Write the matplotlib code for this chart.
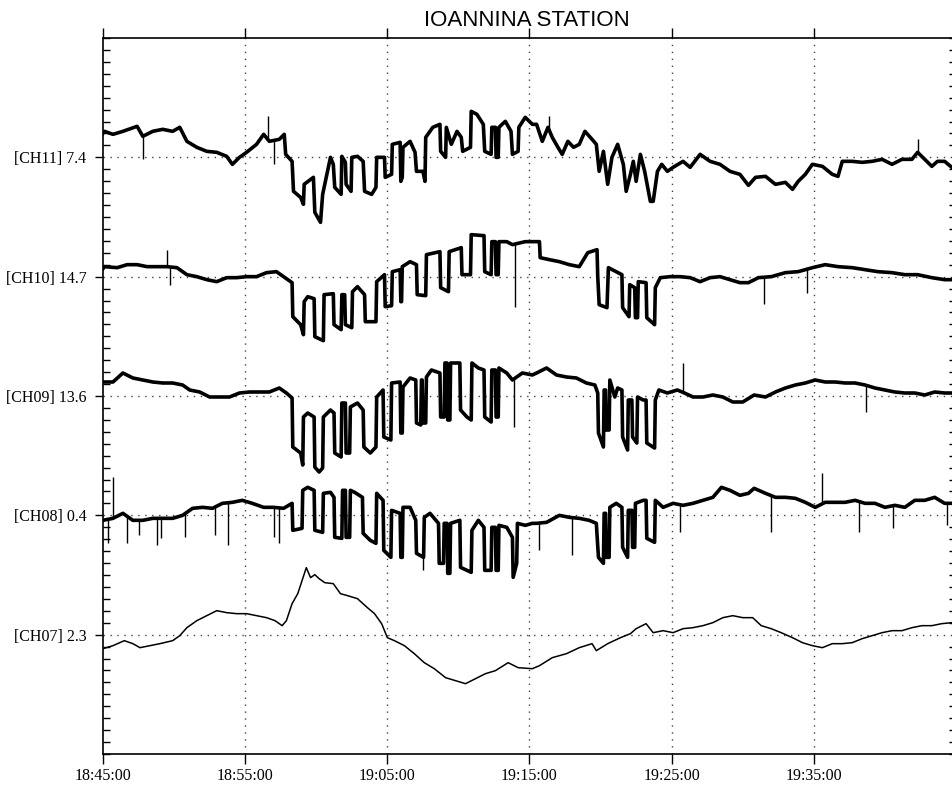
import numpy as np
import matplotlib
matplotlib.use('Agg')
import matplotlib.pyplot as plt
from matplotlib.ticker import MultipleLocator

# (minutes after 18:45:00, deviation from the channel line in pixels; 119.3 px = one channel step)
ch11 = [(0.0, 24), (0.1, 26), (0.7, 23), (1.4, 26), (2.4, 31), (2.8, 21), (3.5, 26), (4.2, 28), (4.9, 26),
        (5.4, 30), (5.9, 16), (6.6, 10), (7.3, 6), (8.0, 5), (8.7, 1), (9.1, -7), (9.6, 0), (10.1, 5),
        (10.8, 13), (11.3, 23), (11.7, 16), (12.4, 18), (12.75, 23), (12.85, 3), (13.3, -4), (13.4, -34),
        (13.9, -40), (14.1, -47), (14.15, -27), (14.8, -20), (14.9, -55), (15.3, -65), (15.45, -37),
        (15.75, -17), (16.0, 0), (16.2, -7), (16.3, -30), (16.75, -37), (16.8, 1), (17.05, -5), (17.1, -27),
        (17.45, -34), (17.5, 0), (17.9, 1), (18.3, -4), (18.4, -34), (18.9, -37), (19.2, -30), (19.25, 0),
        (19.8, 0), (19.85, -20), (20.3, -17), (20.35, 13), (20.9, 15), (20.95, -24), (21.05, -20), (21.1, 10),
        (21.6, 16), (21.95, 5), (22.05, -14), (22.5, -14), (22.65, -24), (22.7, 20), (23.2, 30), (23.7, 33),
        (23.75, 6), (24.1, 0), (24.15, 30), (24.5, 13), (24.9, 26), (25.2, 20), (25.3, 6), (25.85, 10),
        (25.9, 46), (26.3, 43), (26.75, 33), (26.85, 6), (27.3, 3), (27.35, 30), (27.6, 30), (27.65, 0),
        (27.8, 0), (27.85, 30), (28.3, 36), (28.7, 26), (28.8, 3), (29.2, 6), (29.25, 30), (29.7, 40),
        (30.2, 33), (30.5, 33), (30.9, 16), (31.3, 30), (31.6, 20), (32.0, 10), (32.3, 3), (32.7, 16),
        (33.1, 10), (33.5, 13), (33.9, 26), (34.4, 18), (34.7, 13), (34.9, -14), (35.2, 6), (35.5, -27),
        (35.8, 0), (36.2, 13), (36.6, -7), (36.8, -34), (37.1, -17), (37.3, -4), (37.5, -24), (37.8, 3),
        (38.1, -14), (38.5, -44), (38.7, -44), (39.0, -14), (39.3, -7), (39.7, -14), (40.1, -10), (40.8, -4),
        (41.3, -10), (42.0, 3), (42.7, -4), (43.4, -7), (44.1, -14), (44.8, -17), (45.4, -28), (45.9, -20),
        (46.6, -19), (47.3, -27), (48.0, -25), (48.5, -32), (48.9, -24), (49.4, -17), (49.9, -7), (50.6, -9),
        (51.3, -17), (51.7, -19), (52.0, -4), (52.7, -4), (53.4, -5), (54.1, -4), (54.8, -2), (55.5, -7),
        (56.2, -2), (56.9, -2), (57.3, 5), (57.8, -2), (58.3, -9), (58.7, -4), (59.2, -4), (59.7, -10),
        (60.0, -8)]

ch10 = [(0.0, 8), (0.1, 10), (1.0, 9), (1.7, 12), (2.4, 12), (3.1, 10), (3.8, 10), (4.5, 10), (5.2, 9),
        (5.9, 2), (6.6, 0), (7.3, -3), (8.0, -5), (8.7, -1), (9.4, -1), (10.1, 0), (10.8, 0), (11.5, 4),
        (12.2, 5), (12.7, 0), (13.3, -6), (13.35, -40), (13.9, -48), (14.1, -58), (14.15, -25), (14.4, -20),
        (14.85, -22), (14.9, -60), (15.5, -64), (15.55, -18), (16.2, -17), (16.25, -48), (16.75, -53),
        (16.8, -18), (17.0, -18), (17.05, -48), (17.5, -51), (17.55, -15), (17.9, -10), (18.4, -18),
        (18.45, -45), (19.2, -45), (19.25, -5), (19.8, 2), (19.85, -30), (20.3, -29), (20.35, 5), (20.9, 7),
        (20.95, -25), (21.0, -25), (21.05, 10), (21.6, 15), (22.05, 12), (22.1, -18), (22.7, -19), (22.75, 22),
        (23.7, 25), (23.75, -11), (24.3, -15), (24.35, 25), (25.2, 29), (25.25, 2), (25.85, 2), (25.9, 42),
        (26.8, 41), (26.85, 5), (27.3, 2), (27.35, 35), (27.6, 35), (27.65, 2), (27.8, 2), (27.85, 35),
        (28.4, 35), (28.8, 32), (29.7, 35), (30.7, 35), (30.75, 19), (31.4, 17), (32.1, 15), (32.8, 12),
        (33.5, 10), (34.1, 24), (34.75, 27), (34.8, 0), (34.9, -28), (35.45, -31), (35.55, 9), (36.5, 2),
        (36.55, -31), (37.0, -40), (37.05, -8), (37.4, -11), (37.45, -41), (37.6, -41), (37.65, -5),
        (38.2, -6), (38.25, -41), (38.8, -48), (38.85, -11), (39.2, -1), (39.9, 0), (40.6, 0), (41.3, -1),
        (42.0, -5), (42.7, -1), (43.4, 0), (44.1, -3), (44.8, -6), (45.4, -6), (46.1, -1), (47.0, 0),
        (48.0, 4), (48.9, 5), (49.9, 9), (50.8, 12), (51.7, 10), (52.7, 9), (53.6, 7), (54.5, 5), (55.5, 4),
        (56.4, 2), (57.3, 2), (58.3, -1), (59.2, -3), (60.0, -3)]

ch09 = [(0.0, 14), (0.7, 14), (1.4, 23), (2.1, 18), (2.8, 16), (3.5, 14), (4.2, 13), (4.9, 13), (5.6, 11),
        (6.1, 6), (6.8, 4), (7.5, -1), (8.2, -1), (8.9, -1), (9.6, 3), (10.3, 4), (11.0, 4), (11.7, 4),
        (12.4, 8), (12.9, 3), (13.3, -2), (13.35, -51), (13.9, -57), (14.05, -69), (14.1, -21), (14.4, -17),
        (14.85, -21), (14.9, -71), (15.2, -76), (15.45, -72), (15.5, -21), (16.0, -14), (16.25, -17),
        (16.3, -57), (16.75, -61), (16.8, -7), (17.05, -7), (17.1, -57), (17.35, -57), (17.4, -11), (17.9, -7),
        (18.3, -14), (18.35, -51), (18.8, -57), (19.2, -51), (19.25, -1), (19.7, 6), (19.75, -41),
        (20.25, -44), (20.3, 13), (20.9, 14), (20.95, -37), (21.05, -37), (21.1, 9), (21.6, 18), (22.0, 16),
        (22.05, -27), (22.35, -29), (22.4, 16), (22.45, 16), (22.5, -27), (22.7, -27), (22.75, 19), (23.1, 26),
        (23.7, 23), (23.75, -21), (24.0, -21), (24.05, 33), (24.2, 33), (24.25, -24), (24.4, -24), (24.45, 33),
        (25.1, 33), (25.15, -14), (25.6, -21), (25.9, -24), (25.95, 33), (26.4, 28), (26.8, 26), (26.85, -21),
        (27.3, -26), (27.35, 26), (27.6, 26), (27.65, -21), (27.8, -21), (27.85, 28), (28.4, 23), (28.8, 16),
        (29.1, 19), (29.5, 23), (30.2, 21), (30.5, 23), (31.2, 28), (31.9, 21), (32.6, 19), (33.3, 18),
        (34.0, 13), (34.6, 11), (34.8, 3), (34.85, -37), (35.2, -51), (35.25, 6), (35.35, 6), (35.4, -34),
        (35.6, -34), (35.65, 16), (36.0, -1), (36.2, 8), (36.5, 6), (36.55, -41), (36.9, -54), (36.95, -4),
        (37.2, -4), (37.25, -41), (37.55, -47), (37.6, -1), (38.0, -4), (38.2, -4), (38.25, -47), (38.8, -52),
        (38.85, -4), (39.1, 6), (39.7, 3), (40.4, 6), (40.9, 3), (41.5, -1), (42.2, -1), (42.9, 1), (43.6, -1),
        (44.3, -6), (45.0, -6), (45.8, 1), (46.6, -1), (47.3, 4), (48.0, 8), (48.7, 11), (49.4, 13),
        (50.1, 16), (50.8, 14), (51.5, 14), (52.2, 13), (52.9, 13), (53.6, 11), (54.3, 8), (55.0, 6),
        (55.7, 4), (56.4, 3), (57.1, 3), (57.8, 1), (58.5, 4), (59.2, 3), (60.0, 3)]

ch08 = [(0.0, -5), (0.7, -3), (1.4, 2), (2.1, -5), (2.8, -5), (3.5, -3), (4.2, -3), (4.9, -3), (5.6, 0),
        (6.3, 7), (7.0, 8), (7.7, 7), (8.4, 12), (9.1, 13), (9.8, 15), (10.5, 12), (11.3, 8), (12.0, 8),
        (12.7, 7), (13.3, 12), (13.35, -15), (14.0, -13), (14.05, 25), (14.4, 28), (14.85, 25), (14.9, -15),
        (15.45, -17), (15.5, 22), (16.0, 23), (16.25, 18), (16.3, -22), (16.8, -23), (16.85, 25), (17.05, 25),
        (17.1, -22), (17.35, -22), (17.4, 25), (17.7, 23), (18.25, 18), (18.3, -18), (18.8, -25), (19.2, -28),
        (19.25, 22), (19.7, 15), (19.75, -35), (20.25, -42), (20.3, 5), (20.9, 2), (20.95, -42), (21.05, -42),
        (21.1, 8), (21.6, 8), (22.0, -5), (22.05, -38), (22.55, -42), (22.6, -2), (23.0, 2), (23.6, -8),
        (23.65, -48), (23.95, -48), (24.0, -8), (24.2, -8), (24.25, -58), (24.4, -58), (24.45, -8), (25.1, -5),
        (25.15, -52), (25.9, -57), (25.95, -15), (26.4, -5), (26.8, -12), (26.85, -55), (27.3, -55),
        (27.35, -12), (27.6, -12), (27.65, -55), (27.8, -55), (27.85, -10), (28.4, -12), (28.8, -22),
        (28.85, -62), (29.1, -48), (29.15, -8), (29.7, -10), (30.2, -8), (30.5, -8), (31.2, -7), (32.1, 0),
        (32.8, -2), (33.5, -3), (34.2, -5), (34.7, -8), (34.85, -42), (35.2, -48), (35.25, 2), (35.35, 2),
        (35.4, -42), (35.6, -42), (35.65, 8), (36.1, 12), (36.5, 8), (36.55, -32), (36.9, -42), (36.95, 5),
        (37.2, 5), (37.25, -32), (37.4, -32), (37.45, 12), (38.0, 15), (38.2, 15), (38.25, -23), (38.8, -27),
        (38.85, 15), (39.4, 8), (40.1, 12), (40.8, 10), (41.5, 12), (42.2, 15), (42.9, 18), (43.5, 28),
        (44.1, 25), (44.8, 20), (45.4, 22), (45.8, 27), (46.6, 22), (47.3, 18), (48.0, 18), (48.7, 17),
        (49.4, 13), (50.1, 8), (50.8, 13), (51.5, 13), (52.2, 13), (52.9, 15), (53.6, 12), (54.3, 12),
        (55.0, 8), (55.7, 10), (56.4, 8), (57.1, 15), (57.8, 15), (58.5, 18), (59.2, 12), (60.0, 12)]

ch07 = [(0.0, -14), (0.7, -11), (1.5, -6), (2.1, -9), (2.6, -13), (3.3, -11), (4.0, -9), (4.9, -6), (5.4, -1),
        (5.9, 7), (6.6, 14), (7.3, 19), (8.0, 24), (8.7, 22), (9.4, 21), (10.1, 21), (10.8, 19), (11.5, 17),
        (12.1, 14), (12.6, 9), (12.9, 14), (13.3, 31), (13.7, 41), (14.0, 54), (14.3, 67), (14.6, 57),
        (14.9, 60), (15.2, 56), (15.6, 52), (16.2, 51), (16.7, 41), (17.2, 39), (17.9, 36), (18.6, 27),
        (19.1, 21), (19.6, 11), (20.0, -3), (20.5, -6), (21.2, -11), (21.9, -19), (22.6, -28), (23.3, -34),
        (24.1, -43), (24.8, -46), (25.5, -49), (26.2, -44), (26.9, -39), (27.6, -36), (28.5, -28), (29.2, -33),
        (30.2, -34), (30.7, -31), (31.6, -23), (32.6, -19), (33.5, -13), (34.4, -9), (34.7, -16), (35.5, -9),
        (36.4, -3), (37.1, 1), (37.5, 6), (38.2, 11), (38.7, 2), (39.4, 4), (40.1, 2), (40.8, 6), (41.5, 7),
        (42.2, 9), (42.9, 12), (43.6, 17), (44.3, 19), (45.0, 17), (45.7, 17), (46.3, 9), (47.0, 6), (47.7, 2),
        (48.5, -3), (49.2, -8), (49.9, -11), (50.6, -13), (51.3, -9), (52.0, -9), (52.7, -8), (53.4, -4),
        (54.1, -1), (54.8, 2), (55.5, 4), (56.2, 4), (56.9, 7), (57.6, 9), (58.3, 9), (59.0, 11), (59.7, 12),
        (60.0, 12)]

# single-sample spikes: (time, tip deviation)
ch11_spikes = [(2.8, -2), (11.6, 41), (12.0, -7), (31.4, 41), (57.3, 18)]
ch10_spikes = [(4.5, 27), (4.7, -8), (29.0, -30), (46.5, -27), (49.5, -16)]
ch09_spikes = [(28.9, -31), (40.8, 33), (53.7, -16)]
ch08_spikes = [(0.35, -28), (0.7, 38), (1.7, -28), (2.5, -20), (3.8, -30), (4.1, -23), (5.8, -22), (7.9, -20),
               (8.8, -30), (12.0, -22), (12.4, -28), (22.5, -55), (30.7, -35), (33.0, -40), (40.6, -17),
               (47.0, -17), (50.6, 42), (53.2, -17), (55.6, -13), (59.4, -10)]

labels = ['[CH07] 2.3', '[CH08] 0.4', '[CH09] 13.6', '[CH10] 14.7', '[CH11] 7.4']
time_labels = ['18:45:00', '18:55:00', '19:05:00', '19:15:00', '19:25:00', '19:35:00']
title = 'IOANNINA STATION'

PX = 119.3  # pixels per channel step in the original

fig = plt.figure(figsize=(9.53, 7.87), dpi=100)
ax = fig.add_axes([103 / 953, 1 - 754 / 787, 853 / 953, 716 / 787])

channels = [(ch07, [], 1.1), (ch08, ch08_spikes, 2.6), (ch09, ch09_spikes, 2.6),
            (ch10, ch10_spikes, 2.6), (ch11, ch11_spikes, 2.6)]

for i, (pts, spikes, lw) in enumerate(channels):
    lev = i + 1
    t = np.array([p[0] for p in pts])
    y = lev + np.array([p[1] for p in pts]) / PX
    ax.plot(t, y, color='black', lw=lw, solid_joinstyle='round')
    if spikes:
        st = [s[0] for s in spikes]
        base = np.interp(st, t, y)
        tip = lev + np.array([s[1] for s in spikes]) / PX
        ax.vlines(st, np.minimum(base, tip), np.maximum(base, tip), color='black', lw=1.0)

ax.set_xlim(0, 60)
ax.set_ylim(0, 6)

ax.set_xticks(np.arange(0, 60, 10))
ax.set_xticklabels(time_labels, family='Liberation Serif', fontsize=11.5)
ax.set_yticks([1, 2, 3, 4, 5])
ax.set_yticklabels(labels, family='Liberation Serif', fontsize=11.5)
ax.yaxis.set_minor_locator(MultipleLocator(0.1))

ax.tick_params(axis='x', which='major', direction='out', length=7, width=1.0, top=True, pad=3)
ax.tick_params(axis='y', which='major', direction='out', length=6, width=1.0, pad=6)
ax.tick_params(axis='y', which='minor', direction='in', length=5, width=1.0, left=True, right=True)

for s in ax.spines.values():
    s.set_linewidth(1.2)

for xv in range(10, 60, 10):
    ax.axvline(xv, color='#444444', lw=1.0, ls=(0, (1, 4)), zorder=0)
for lv in range(1, 6):
    ax.axhline(lv, color='#444444', lw=1.0, ls=(0, (1, 4)), zorder=0)

fig.text(527 / 953, 1 - 26 / 787, title, ha='center', va='baseline',
         family='Liberation Sans', fontsize=16)

fig.savefig('out.png', dpi=100)
